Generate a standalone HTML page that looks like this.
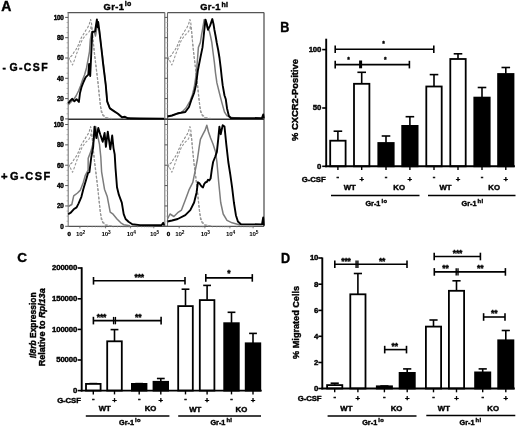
<!DOCTYPE html>
<html><head><meta charset="utf-8"><style>
html,body{margin:0;padding:0;background:#fff;overflow:hidden;}
svg{display:block;font-family:"Liberation Sans", sans-serif;will-change:transform;}
</style></head><body>
<svg width="520" height="427" viewBox="0 0 520 427">
<rect width="520" height="427" fill="#fff"/>
<line x1="67.60000000000001" y1="12.6" x2="164.8" y2="12.6" stroke="#555" stroke-width="1.3" />
<line x1="167.5" y1="12.6" x2="264.0" y2="12.6" stroke="#555" stroke-width="1.3" />
<line x1="68.2" y1="12.6" x2="68.2" y2="226.3" stroke="#777" stroke-width="1.1" />
<line x1="164.8" y1="12.6" x2="164.8" y2="119.2" stroke="#666" stroke-width="1.1" />
<line x1="167.5" y1="12.6" x2="167.5" y2="119.2" stroke="#666" stroke-width="1.1" />
<line x1="164.8" y1="119.2" x2="164.8" y2="226.3" stroke="#777" stroke-width="1.1" />
<line x1="167.5" y1="119.2" x2="167.5" y2="226.3" stroke="#777" stroke-width="1.1" />
<line x1="264.0" y1="12.6" x2="264.0" y2="226.3" stroke="#555" stroke-width="1.3" />
<line x1="68.2" y1="119.2" x2="264.0" y2="119.2" stroke="#333" stroke-width="1.6" />
<line x1="68.2" y1="226.3" x2="264.0" y2="226.3" stroke="#555" stroke-width="1.3" />
<line x1="65.2" y1="118.9" x2="68.2" y2="118.9" stroke="#555" stroke-width="1.0" />
<line x1="164.8" y1="118.9" x2="167.5" y2="118.9" stroke="#555" stroke-width="1.0" />
<line x1="66.6" y1="113.825" x2="68.2" y2="113.825" stroke="#999" stroke-width="0.8" />
<line x1="164.8" y1="113.825" x2="167.5" y2="113.825" stroke="#bbb" stroke-width="0.7" />
<line x1="66.6" y1="108.75" x2="68.2" y2="108.75" stroke="#999" stroke-width="0.8" />
<line x1="164.8" y1="108.75" x2="167.5" y2="108.75" stroke="#bbb" stroke-width="0.7" />
<line x1="66.6" y1="103.67500000000001" x2="68.2" y2="103.67500000000001" stroke="#999" stroke-width="0.8" />
<line x1="164.8" y1="103.67500000000001" x2="167.5" y2="103.67500000000001" stroke="#bbb" stroke-width="0.7" />
<line x1="65.2" y1="98.60000000000001" x2="68.2" y2="98.60000000000001" stroke="#555" stroke-width="1.0" />
<line x1="164.8" y1="98.60000000000001" x2="167.5" y2="98.60000000000001" stroke="#555" stroke-width="1.0" />
<line x1="66.6" y1="93.525" x2="68.2" y2="93.525" stroke="#999" stroke-width="0.8" />
<line x1="164.8" y1="93.525" x2="167.5" y2="93.525" stroke="#bbb" stroke-width="0.7" />
<line x1="66.6" y1="88.45000000000002" x2="68.2" y2="88.45000000000002" stroke="#999" stroke-width="0.8" />
<line x1="164.8" y1="88.45000000000002" x2="167.5" y2="88.45000000000002" stroke="#bbb" stroke-width="0.7" />
<line x1="66.6" y1="83.375" x2="68.2" y2="83.375" stroke="#999" stroke-width="0.8" />
<line x1="164.8" y1="83.375" x2="167.5" y2="83.375" stroke="#bbb" stroke-width="0.7" />
<line x1="65.2" y1="78.30000000000001" x2="68.2" y2="78.30000000000001" stroke="#555" stroke-width="1.0" />
<line x1="164.8" y1="78.30000000000001" x2="167.5" y2="78.30000000000001" stroke="#555" stroke-width="1.0" />
<line x1="66.6" y1="73.22500000000001" x2="68.2" y2="73.22500000000001" stroke="#999" stroke-width="0.8" />
<line x1="164.8" y1="73.22500000000001" x2="167.5" y2="73.22500000000001" stroke="#bbb" stroke-width="0.7" />
<line x1="66.6" y1="68.15" x2="68.2" y2="68.15" stroke="#999" stroke-width="0.8" />
<line x1="164.8" y1="68.15" x2="167.5" y2="68.15" stroke="#bbb" stroke-width="0.7" />
<line x1="66.6" y1="63.07500000000001" x2="68.2" y2="63.07500000000001" stroke="#999" stroke-width="0.8" />
<line x1="164.8" y1="63.07500000000001" x2="167.5" y2="63.07500000000001" stroke="#bbb" stroke-width="0.7" />
<line x1="65.2" y1="58.000000000000014" x2="68.2" y2="58.000000000000014" stroke="#555" stroke-width="1.0" />
<line x1="164.8" y1="58.000000000000014" x2="167.5" y2="58.000000000000014" stroke="#555" stroke-width="1.0" />
<line x1="66.6" y1="52.92500000000001" x2="68.2" y2="52.92500000000001" stroke="#999" stroke-width="0.8" />
<line x1="164.8" y1="52.92500000000001" x2="167.5" y2="52.92500000000001" stroke="#bbb" stroke-width="0.7" />
<line x1="66.6" y1="47.85000000000001" x2="68.2" y2="47.85000000000001" stroke="#999" stroke-width="0.8" />
<line x1="164.8" y1="47.85000000000001" x2="167.5" y2="47.85000000000001" stroke="#bbb" stroke-width="0.7" />
<line x1="66.6" y1="42.77500000000002" x2="68.2" y2="42.77500000000002" stroke="#999" stroke-width="0.8" />
<line x1="164.8" y1="42.77500000000002" x2="167.5" y2="42.77500000000002" stroke="#bbb" stroke-width="0.7" />
<line x1="65.2" y1="37.70000000000002" x2="68.2" y2="37.70000000000002" stroke="#555" stroke-width="1.0" />
<line x1="164.8" y1="37.70000000000002" x2="167.5" y2="37.70000000000002" stroke="#555" stroke-width="1.0" />
<line x1="66.6" y1="32.625000000000014" x2="68.2" y2="32.625000000000014" stroke="#999" stroke-width="0.8" />
<line x1="164.8" y1="32.625000000000014" x2="167.5" y2="32.625000000000014" stroke="#bbb" stroke-width="0.7" />
<line x1="66.6" y1="27.55000000000001" x2="68.2" y2="27.55000000000001" stroke="#999" stroke-width="0.8" />
<line x1="164.8" y1="27.55000000000001" x2="167.5" y2="27.55000000000001" stroke="#bbb" stroke-width="0.7" />
<line x1="66.6" y1="22.47500000000001" x2="68.2" y2="22.47500000000001" stroke="#999" stroke-width="0.8" />
<line x1="164.8" y1="22.47500000000001" x2="167.5" y2="22.47500000000001" stroke="#bbb" stroke-width="0.7" />
<line x1="65.2" y1="17.40000000000002" x2="68.2" y2="17.40000000000002" stroke="#555" stroke-width="1.0" />
<line x1="164.8" y1="17.40000000000002" x2="167.5" y2="17.40000000000002" stroke="#555" stroke-width="1.0" />
<text x="63.6" y="121.2" font-size="6.3" text-anchor="end" font-weight="bold" fill="#000" stroke="#000" stroke-width="0.4" letter-spacing="-0.2">0</text>
<text x="63.6" y="100.9" font-size="6.3" text-anchor="end" font-weight="bold" fill="#000" stroke="#000" stroke-width="0.4" letter-spacing="-0.2">20</text>
<text x="63.6" y="80.60000000000001" font-size="6.3" text-anchor="end" font-weight="bold" fill="#000" stroke="#000" stroke-width="0.4" letter-spacing="-0.2">40</text>
<text x="63.6" y="60.30000000000001" font-size="6.3" text-anchor="end" font-weight="bold" fill="#000" stroke="#000" stroke-width="0.4" letter-spacing="-0.2">60</text>
<text x="63.6" y="40.000000000000014" font-size="6.3" text-anchor="end" font-weight="bold" fill="#000" stroke="#000" stroke-width="0.4" letter-spacing="-0.2">80</text>
<text x="63.6" y="19.70000000000002" font-size="6.3" text-anchor="end" font-weight="bold" fill="#000" stroke="#000" stroke-width="0.4" letter-spacing="-0.2">100</text>
<line x1="65.2" y1="226.3" x2="68.2" y2="226.3" stroke="#555" stroke-width="1.0" />
<line x1="164.8" y1="226.3" x2="167.5" y2="226.3" stroke="#555" stroke-width="1.0" />
<line x1="66.6" y1="221.21" x2="68.2" y2="221.21" stroke="#999" stroke-width="0.8" />
<line x1="164.8" y1="221.21" x2="167.5" y2="221.21" stroke="#bbb" stroke-width="0.7" />
<line x1="66.6" y1="216.12" x2="68.2" y2="216.12" stroke="#999" stroke-width="0.8" />
<line x1="164.8" y1="216.12" x2="167.5" y2="216.12" stroke="#bbb" stroke-width="0.7" />
<line x1="66.6" y1="211.03" x2="68.2" y2="211.03" stroke="#999" stroke-width="0.8" />
<line x1="164.8" y1="211.03" x2="167.5" y2="211.03" stroke="#bbb" stroke-width="0.7" />
<line x1="65.2" y1="205.94" x2="68.2" y2="205.94" stroke="#555" stroke-width="1.0" />
<line x1="164.8" y1="205.94" x2="167.5" y2="205.94" stroke="#555" stroke-width="1.0" />
<line x1="66.6" y1="200.85000000000002" x2="68.2" y2="200.85000000000002" stroke="#999" stroke-width="0.8" />
<line x1="164.8" y1="200.85000000000002" x2="167.5" y2="200.85000000000002" stroke="#bbb" stroke-width="0.7" />
<line x1="66.6" y1="195.76000000000002" x2="68.2" y2="195.76000000000002" stroke="#999" stroke-width="0.8" />
<line x1="164.8" y1="195.76000000000002" x2="167.5" y2="195.76000000000002" stroke="#bbb" stroke-width="0.7" />
<line x1="66.6" y1="190.67000000000002" x2="68.2" y2="190.67000000000002" stroke="#999" stroke-width="0.8" />
<line x1="164.8" y1="190.67000000000002" x2="167.5" y2="190.67000000000002" stroke="#bbb" stroke-width="0.7" />
<line x1="65.2" y1="185.58" x2="68.2" y2="185.58" stroke="#555" stroke-width="1.0" />
<line x1="164.8" y1="185.58" x2="167.5" y2="185.58" stroke="#555" stroke-width="1.0" />
<line x1="66.6" y1="180.49" x2="68.2" y2="180.49" stroke="#999" stroke-width="0.8" />
<line x1="164.8" y1="180.49" x2="167.5" y2="180.49" stroke="#bbb" stroke-width="0.7" />
<line x1="66.6" y1="175.4" x2="68.2" y2="175.4" stroke="#999" stroke-width="0.8" />
<line x1="164.8" y1="175.4" x2="167.5" y2="175.4" stroke="#bbb" stroke-width="0.7" />
<line x1="66.6" y1="170.31" x2="68.2" y2="170.31" stroke="#999" stroke-width="0.8" />
<line x1="164.8" y1="170.31" x2="167.5" y2="170.31" stroke="#bbb" stroke-width="0.7" />
<line x1="65.2" y1="165.22000000000003" x2="68.2" y2="165.22000000000003" stroke="#555" stroke-width="1.0" />
<line x1="164.8" y1="165.22000000000003" x2="167.5" y2="165.22000000000003" stroke="#555" stroke-width="1.0" />
<line x1="66.6" y1="160.13" x2="68.2" y2="160.13" stroke="#999" stroke-width="0.8" />
<line x1="164.8" y1="160.13" x2="167.5" y2="160.13" stroke="#bbb" stroke-width="0.7" />
<line x1="66.6" y1="155.04000000000002" x2="68.2" y2="155.04000000000002" stroke="#999" stroke-width="0.8" />
<line x1="164.8" y1="155.04000000000002" x2="167.5" y2="155.04000000000002" stroke="#bbb" stroke-width="0.7" />
<line x1="66.6" y1="149.95000000000002" x2="68.2" y2="149.95000000000002" stroke="#999" stroke-width="0.8" />
<line x1="164.8" y1="149.95000000000002" x2="167.5" y2="149.95000000000002" stroke="#bbb" stroke-width="0.7" />
<line x1="65.2" y1="144.86" x2="68.2" y2="144.86" stroke="#555" stroke-width="1.0" />
<line x1="164.8" y1="144.86" x2="167.5" y2="144.86" stroke="#555" stroke-width="1.0" />
<line x1="66.6" y1="139.77" x2="68.2" y2="139.77" stroke="#999" stroke-width="0.8" />
<line x1="164.8" y1="139.77" x2="167.5" y2="139.77" stroke="#bbb" stroke-width="0.7" />
<line x1="66.6" y1="134.68" x2="68.2" y2="134.68" stroke="#999" stroke-width="0.8" />
<line x1="164.8" y1="134.68" x2="167.5" y2="134.68" stroke="#bbb" stroke-width="0.7" />
<line x1="66.6" y1="129.59" x2="68.2" y2="129.59" stroke="#999" stroke-width="0.8" />
<line x1="164.8" y1="129.59" x2="167.5" y2="129.59" stroke="#bbb" stroke-width="0.7" />
<line x1="65.2" y1="124.50000000000001" x2="68.2" y2="124.50000000000001" stroke="#555" stroke-width="1.0" />
<line x1="164.8" y1="124.50000000000001" x2="167.5" y2="124.50000000000001" stroke="#555" stroke-width="1.0" />
<text x="63.6" y="228.60000000000002" font-size="6.3" text-anchor="end" font-weight="bold" fill="#000" stroke="#000" stroke-width="0.4" letter-spacing="-0.2">0</text>
<text x="63.6" y="208.24" font-size="6.3" text-anchor="end" font-weight="bold" fill="#000" stroke="#000" stroke-width="0.4" letter-spacing="-0.2">20</text>
<text x="63.6" y="187.88000000000002" font-size="6.3" text-anchor="end" font-weight="bold" fill="#000" stroke="#000" stroke-width="0.4" letter-spacing="-0.2">40</text>
<text x="63.6" y="167.52000000000004" font-size="6.3" text-anchor="end" font-weight="bold" fill="#000" stroke="#000" stroke-width="0.4" letter-spacing="-0.2">60</text>
<text x="63.6" y="147.16000000000003" font-size="6.3" text-anchor="end" font-weight="bold" fill="#000" stroke="#000" stroke-width="0.4" letter-spacing="-0.2">80</text>
<text x="63.6" y="126.80000000000001" font-size="6.3" text-anchor="end" font-weight="bold" fill="#000" stroke="#000" stroke-width="0.4" letter-spacing="-0.2">100</text>
<text x="69.3" y="236.4" font-size="6.2" text-anchor="middle" font-weight="bold" fill="#000" stroke="#000" stroke-width="0.4" >0</text>
<text x="76.0" y="236.4" font-size="6.2" font-weight="bold" letter-spacing="-0.2">10<tspan font-size="4.8" dy="-2.3">2</tspan></text>
<text x="101.5" y="236.4" font-size="6.2" font-weight="bold" letter-spacing="-0.2">10<tspan font-size="4.8" dy="-2.3">3</tspan></text>
<text x="126.7" y="236.4" font-size="6.2" font-weight="bold" letter-spacing="-0.2">10<tspan font-size="4.8" dy="-2.3">4</tspan></text>
<text x="149.9" y="236.4" font-size="6.2" font-weight="bold" letter-spacing="-0.2">10<tspan font-size="4.8" dy="-2.3">5</tspan></text>
<line x1="79.9" y1="226.3" x2="79.9" y2="228.3" stroke="#666" stroke-width="0.9" />
<line x1="105.6" y1="226.3" x2="105.6" y2="228.3" stroke="#666" stroke-width="0.9" />
<line x1="130.6" y1="226.3" x2="130.6" y2="228.3" stroke="#666" stroke-width="0.9" />
<line x1="153.8" y1="226.3" x2="153.8" y2="228.3" stroke="#666" stroke-width="0.9" />
<line x1="87.63647088856432" y1="226.3" x2="87.63647088856432" y2="227.5" stroke="#999" stroke-width="0.6" />
<line x1="92.16201624629532" y1="226.3" x2="92.16201624629532" y2="227.5" stroke="#999" stroke-width="0.6" />
<line x1="95.37294177712863" y1="226.3" x2="95.37294177712863" y2="227.5" stroke="#999" stroke-width="0.6" />
<line x1="97.86352911143568" y1="226.3" x2="97.86352911143568" y2="227.5" stroke="#999" stroke-width="0.6" />
<line x1="99.89848713485964" y1="226.3" x2="99.89848713485964" y2="227.5" stroke="#999" stroke-width="0.6" />
<line x1="101.6190196283664" y1="226.3" x2="101.6190196283664" y2="227.5" stroke="#999" stroke-width="0.6" />
<line x1="103.10941266569294" y1="226.3" x2="103.10941266569294" y2="227.5" stroke="#999" stroke-width="0.6" />
<line x1="104.42403249259064" y1="226.3" x2="104.42403249259064" y2="227.5" stroke="#999" stroke-width="0.6" />
<line x1="113.12574989159953" y1="226.3" x2="113.12574989159953" y2="227.5" stroke="#999" stroke-width="0.6" />
<line x1="117.52803136799156" y1="226.3" x2="117.52803136799156" y2="227.5" stroke="#999" stroke-width="0.6" />
<line x1="120.65149978319906" y1="226.3" x2="120.65149978319906" y2="227.5" stroke="#999" stroke-width="0.6" />
<line x1="123.07425010840046" y1="226.3" x2="123.07425010840046" y2="227.5" stroke="#999" stroke-width="0.6" />
<line x1="125.05378125959109" y1="226.3" x2="125.05378125959109" y2="227.5" stroke="#999" stroke-width="0.6" />
<line x1="126.72745100035641" y1="226.3" x2="126.72745100035641" y2="227.5" stroke="#999" stroke-width="0.6" />
<line x1="128.1772496747986" y1="226.3" x2="128.1772496747986" y2="227.5" stroke="#999" stroke-width="0.6" />
<line x1="129.45606273598312" y1="226.3" x2="129.45606273598312" y2="227.5" stroke="#999" stroke-width="0.6" />
<line x1="137.58389589940435" y1="226.3" x2="137.58389589940435" y2="227.5" stroke="#999" stroke-width="0.6" />
<line x1="141.66921310949618" y1="226.3" x2="141.66921310949618" y2="227.5" stroke="#999" stroke-width="0.6" />
<line x1="144.56779179880874" y1="226.3" x2="144.56779179880874" y2="227.5" stroke="#999" stroke-width="0.6" />
<line x1="146.81610410059565" y1="226.3" x2="146.81610410059565" y2="227.5" stroke="#999" stroke-width="0.6" />
<line x1="148.65310900890054" y1="226.3" x2="148.65310900890054" y2="227.5" stroke="#999" stroke-width="0.6" />
<line x1="150.20627452833077" y1="226.3" x2="150.20627452833077" y2="227.5" stroke="#999" stroke-width="0.6" />
<line x1="151.5516876982131" y1="226.3" x2="151.5516876982131" y2="227.5" stroke="#999" stroke-width="0.6" />
<line x1="152.73842621899234" y1="226.3" x2="152.73842621899234" y2="227.5" stroke="#999" stroke-width="0.6" />
<text x="168.6" y="236.4" font-size="6.2" text-anchor="middle" font-weight="bold" fill="#000" stroke="#000" stroke-width="0.4" >0</text>
<text x="175.3" y="236.4" font-size="6.2" font-weight="bold" letter-spacing="-0.2">10<tspan font-size="4.8" dy="-2.3">2</tspan></text>
<text x="200.8" y="236.4" font-size="6.2" font-weight="bold" letter-spacing="-0.2">10<tspan font-size="4.8" dy="-2.3">3</tspan></text>
<text x="226.0" y="236.4" font-size="6.2" font-weight="bold" letter-spacing="-0.2">10<tspan font-size="4.8" dy="-2.3">4</tspan></text>
<text x="249.2" y="236.4" font-size="6.2" font-weight="bold" letter-spacing="-0.2">10<tspan font-size="4.8" dy="-2.3">5</tspan></text>
<line x1="179.2" y1="226.3" x2="179.2" y2="228.3" stroke="#666" stroke-width="0.9" />
<line x1="204.89999999999998" y1="226.3" x2="204.89999999999998" y2="228.3" stroke="#666" stroke-width="0.9" />
<line x1="229.89999999999998" y1="226.3" x2="229.89999999999998" y2="228.3" stroke="#666" stroke-width="0.9" />
<line x1="253.10000000000002" y1="226.3" x2="253.10000000000002" y2="228.3" stroke="#666" stroke-width="0.9" />
<line x1="186.93647088856432" y1="226.3" x2="186.93647088856432" y2="227.5" stroke="#999" stroke-width="0.6" />
<line x1="191.46201624629532" y1="226.3" x2="191.46201624629532" y2="227.5" stroke="#999" stroke-width="0.6" />
<line x1="194.67294177712864" y1="226.3" x2="194.67294177712864" y2="227.5" stroke="#999" stroke-width="0.6" />
<line x1="197.16352911143568" y1="226.3" x2="197.16352911143568" y2="227.5" stroke="#999" stroke-width="0.6" />
<line x1="199.19848713485965" y1="226.3" x2="199.19848713485965" y2="227.5" stroke="#999" stroke-width="0.6" />
<line x1="200.9190196283664" y1="226.3" x2="200.9190196283664" y2="227.5" stroke="#999" stroke-width="0.6" />
<line x1="202.40941266569294" y1="226.3" x2="202.40941266569294" y2="227.5" stroke="#999" stroke-width="0.6" />
<line x1="203.72403249259065" y1="226.3" x2="203.72403249259065" y2="227.5" stroke="#999" stroke-width="0.6" />
<line x1="212.42574989159954" y1="226.3" x2="212.42574989159954" y2="227.5" stroke="#999" stroke-width="0.6" />
<line x1="216.82803136799157" y1="226.3" x2="216.82803136799157" y2="227.5" stroke="#999" stroke-width="0.6" />
<line x1="219.95149978319904" y1="226.3" x2="219.95149978319904" y2="227.5" stroke="#999" stroke-width="0.6" />
<line x1="222.37425010840047" y1="226.3" x2="222.37425010840047" y2="227.5" stroke="#999" stroke-width="0.6" />
<line x1="224.35378125959107" y1="226.3" x2="224.35378125959107" y2="227.5" stroke="#999" stroke-width="0.6" />
<line x1="226.0274510003564" y1="226.3" x2="226.0274510003564" y2="227.5" stroke="#999" stroke-width="0.6" />
<line x1="227.4772496747986" y1="226.3" x2="227.4772496747986" y2="227.5" stroke="#999" stroke-width="0.6" />
<line x1="228.7560627359831" y1="226.3" x2="228.7560627359831" y2="227.5" stroke="#999" stroke-width="0.6" />
<line x1="236.88389589940437" y1="226.3" x2="236.88389589940437" y2="227.5" stroke="#999" stroke-width="0.6" />
<line x1="240.9692131094962" y1="226.3" x2="240.9692131094962" y2="227.5" stroke="#999" stroke-width="0.6" />
<line x1="243.86779179880875" y1="226.3" x2="243.86779179880875" y2="227.5" stroke="#999" stroke-width="0.6" />
<line x1="246.11610410059563" y1="226.3" x2="246.11610410059563" y2="227.5" stroke="#999" stroke-width="0.6" />
<line x1="247.95310900890053" y1="226.3" x2="247.95310900890053" y2="227.5" stroke="#999" stroke-width="0.6" />
<line x1="249.50627452833078" y1="226.3" x2="249.50627452833078" y2="227.5" stroke="#999" stroke-width="0.6" />
<line x1="250.85168769821308" y1="226.3" x2="250.85168769821308" y2="227.5" stroke="#999" stroke-width="0.6" />
<line x1="252.03842621899236" y1="226.3" x2="252.03842621899236" y2="227.5" stroke="#999" stroke-width="0.6" />
<text x="103.5" y="9.8" font-size="9.3" font-weight="bold" letter-spacing="0.4" stroke="#000" stroke-width="0.4">Gr-1<tspan font-size="7" dx="0.6" dy="-3.6" letter-spacing="0.2">lo</tspan></text>
<text x="200.2" y="10.1" font-size="9.3" font-weight="bold" letter-spacing="0.4" stroke="#000" stroke-width="0.4">Gr-1<tspan font-size="7" dx="0.6" dy="-3.6" letter-spacing="0.2">hi</tspan></text>
<text x="2.4" y="70.9" font-size="10.2" text-anchor="start" font-weight="bold" fill="#000" stroke="#000" stroke-width="0.4" >-</text>
<text x="9.4" y="70.9" font-size="10.5" text-anchor="start" font-weight="bold" fill="#000" stroke="#000" stroke-width="0.4" letter-spacing="1.4">G-CSF</text>
<text x="1.0" y="180.4" font-size="11.3" text-anchor="start" font-weight="bold" fill="#000" stroke="#000" stroke-width="0.4" >+</text>
<text x="10.1" y="180.4" font-size="11" text-anchor="start" font-weight="bold" fill="#000" stroke="#000" stroke-width="0.4" letter-spacing="1.5">G-CSF</text>
<text x="1.2" y="11.3" font-size="14" text-anchor="start" font-weight="bold" fill="#000" stroke="#000" stroke-width="0.4" >A</text>
<text x="280.3" y="31.7" font-size="14" text-anchor="start" font-weight="bold" fill="#000" stroke="#000" stroke-width="0.4" transform="translate(280.3 0) scale(0.9 1) translate(-280.3 0)">B</text>
<text x="17.3" y="262.3" font-size="13.5" text-anchor="start" font-weight="bold" fill="#000" stroke="#000" stroke-width="0.4" >C</text>
<text x="281.1" y="263.1" font-size="14" text-anchor="start" font-weight="bold" fill="#000" stroke="#000" stroke-width="0.4" transform="translate(281.1 0) scale(0.9 1) translate(-281.1 0)">D</text>
<polyline points="68.3,60.5 70.2,57 72,55.5 74.1,52 76,49.5 77.9,46 80,41 81.4,37.5 83.6,34 85.7,30.5 87.7,27.5 89.2,24.5 90.6,19.5 91.5,23 92.5,33 93.5,45 94.5,55 95.8,65 97,75 98.2,85 99.2,95 100.3,105 101.3,112 103,115.5 105.5,117.8 110,118.6" fill="none" stroke="#8c8c8c" stroke-width="1.1" stroke-linejoin="round" stroke-dasharray="2.6 1.6"/>
<polyline points="68.3,56.5 70.3,60.5 72.5,65 74.5,60 76.5,54 78.5,49 80.5,44 82.1,40.1 85,35.9 87.8,33.1 89.2,31.7 90.5,28.5 91.3,26 92.3,32 93.3,42 94.5,53 95.6,62 96.8,72 98,82 99,92 100.2,103 101.3,110 102.8,114.5 106,117.5 112,118.6" fill="none" stroke="#9a9a9a" stroke-width="1.1" stroke-linejoin="round" stroke-dasharray="2.6 1.6"/>
<polyline points="68.3,167.73 70.2,164.22 72,162.71 74.1,159.2 76,156.69 77.9,153.18 80,148.17 81.4,144.66 83.6,141.15 85.7,137.64 87.7,134.63 89.2,131.62 90.6,126.61 91.5,130.12 92.5,140.15 93.5,152.18 94.5,162.21 95.8,172.24 97,182.27 98.2,192.3 99.2,202.33 100.3,212.36 101.3,219.38 103,222.89 105.5,225.2 110,226.0" fill="none" stroke="#8c8c8c" stroke-width="1.1" stroke-linejoin="round" stroke-dasharray="2.6 1.6"/>
<polyline points="68.3,163.72 70.3,167.73 72.5,172.24 74.5,167.23 76.5,161.21 78.5,156.19 80.5,151.18 82.1,147.27 85,143.05 87.8,140.25 89.2,138.84 90.5,135.63 91.3,133.13 92.3,139.14 93.3,149.17 94.5,160.21 95.6,169.23 96.8,179.26 98,189.29 99,199.32 100.2,210.35 101.3,217.37 102.8,221.89 106,224.9 112,226.0" fill="none" stroke="#9a9a9a" stroke-width="1.1" stroke-linejoin="round" stroke-dasharray="2.6 1.6"/>
<polyline points="167.6,60.5 169.5,57 171.3,55.5 173.4,52 175.3,49.5 177.2,46 179.3,41 180.7,37.5 182.9,34 185.0,30.5 187.0,27.5 188.5,24.5 189.9,19.5 190.8,23 191.8,33 192.8,45 193.8,55 195.1,65 196.3,75 197.5,85 198.5,95 199.6,105 200.6,112 202.3,115.5 204.8,117.8 209.3,118.6" fill="none" stroke="#8c8c8c" stroke-width="1.1" stroke-linejoin="round" stroke-dasharray="2.6 1.6"/>
<polyline points="167.6,56.5 169.6,60.5 171.8,65 173.8,60 175.8,54 177.8,49 179.8,44 181.4,40.1 184.3,35.9 187.1,33.1 188.5,31.7 189.8,28.5 190.6,26 191.6,32 192.6,42 193.8,53 194.9,62 196.1,72 197.3,82 198.3,92 199.5,103 200.6,110 202.1,114.5 205.3,117.5 211.3,118.6" fill="none" stroke="#9a9a9a" stroke-width="1.1" stroke-linejoin="round" stroke-dasharray="2.6 1.6"/>
<polyline points="167.6,167.73 169.5,164.22 171.3,162.71 173.4,159.2 175.3,156.69 177.2,153.18 179.3,148.17 180.7,144.66 182.9,141.15 185.0,137.64 187.0,134.63 188.5,131.62 189.9,126.61 190.8,130.12 191.8,140.15 192.8,152.18 193.8,162.21 195.1,172.24 196.3,182.27 197.5,192.3 198.5,202.33 199.6,212.36 200.6,219.38 202.3,222.89 204.8,225.2 209.3,226.0" fill="none" stroke="#8c8c8c" stroke-width="1.1" stroke-linejoin="round" stroke-dasharray="2.6 1.6"/>
<polyline points="167.6,163.72 169.6,167.73 171.8,172.24 173.8,167.23 175.8,161.21 177.8,156.19 179.8,151.18 181.4,147.27 184.3,143.05 187.1,140.25 188.5,138.84 189.8,135.63 190.6,133.13 191.6,139.14 192.6,149.17 193.8,160.21 194.9,169.23 196.1,179.26 197.3,189.29 198.3,199.32 199.5,210.35 200.6,217.37 202.1,221.89 205.3,224.9 211.3,226.0" fill="none" stroke="#9a9a9a" stroke-width="1.1" stroke-linejoin="round" stroke-dasharray="2.6 1.6"/>
<polyline points="68.2,105 70,103 72,101 74,99 76,96 78.5,91 80.5,86 82.5,80 84.5,75 86.5,68 88,60 89.5,51.7 90.3,40 91.5,33 92.8,32 94.5,32.5 95.5,36 96.5,30 97.5,25 98.5,28 99.4,31 100.6,42 102.1,53 103.5,64.5 104.9,76.5 105.9,86 107.1,100.5 109.7,108 113.9,111 118,114 122,117.5 130,118.6" fill="none" stroke="#7c7c7c" stroke-width="1.5" stroke-linejoin="round" />
<polyline points="68.2,103.4 70,101 72.3,98.8 74.4,101.3 76.5,99.2 78.9,102 80,93 81.6,86.8 83.5,82 85.6,77.4 88.3,74.7 89.1,63.9 90.2,76 91.2,55 91.8,42.3 92.3,31.6 93.5,31.6 95,31.6 96.9,19.4 97.5,27 98.2,22 99.1,28.9 100.4,39.6 101.8,52 103.1,63.9 104.5,75 105.8,85.5 107.2,101.6 109.9,108.4 113.9,111.1 118,113.8 122,117.3 125,116.8 128,118.3 140,118.5 164,118.6" fill="none" stroke="#000" stroke-width="1.9" stroke-linejoin="round" />
<polyline points="167.5,116 172,115.5 175,114.5 179,113.5 182,112 186,108 188,104.5 190.3,100.6 192.3,95 194.1,88 195.5,79 196.6,70.2 197.6,58 198.4,47.4 200.4,42.4 201.5,35 202.5,29.7 203.5,24 204.2,19.6 205,23 206,25 207.5,28 209.3,31 210.5,36 211.8,42.4 213,52 214.4,62.6 215.5,73 216.9,82.9 219.4,93 222,103.1 224.5,112 227,115.8 231,117.6 240,118.3" fill="none" stroke="#7c7c7c" stroke-width="1.5" stroke-linejoin="round" />
<polyline points="167.5,116.5 172,115.5 177.7,113.3 181,112.8 185.3,112 189,107 191.6,99.3 194.1,93 195.9,85.4 197.9,70.2 200.4,57.6 202.5,47.4 203.5,38 204.2,31 205.5,19.6 206.8,24 208,29.7 210,25.9 212.3,19.1 213.5,24 214.4,29.7 215.6,36 216.8,43 218.2,50 219.5,58 220.7,67.7 221.7,77 222.7,85.4 224.5,95.5 225.8,99.3 227,108.2 228.8,115.8 230.8,118.0 262,118.1 263.2,114.5 263.8,118.4" fill="none" stroke="#000" stroke-width="1.9" stroke-linejoin="round" />
<polyline points="68.2,206.5 71.8,204.5 73.7,195.9 77.5,193 80.4,190.1 83.3,182.4 85.2,175.7 88.1,170 88.2,158.2 90.7,151.9 93.2,143 95.1,132.9 95.7,126.6 97.6,135.5 99.5,144.3 100.8,157 101.6,171.8 104.5,189.2 107.3,196.8 110.2,212.2 113.1,214.2 117,219 120.8,222.8 123.7,224.7 130,225.8" fill="none" stroke="#7c7c7c" stroke-width="1.5" stroke-linejoin="round" />
<polyline points="68.2,214.2 70.8,212.6 73.7,209.3 76.6,207.4 78.5,203.6 81.4,196.8 83.3,189.2 86.2,179.5 88.1,172.8 89.4,172.2 91.3,157 93.2,146.8 94.5,126.6 96.4,138 98.3,127.9 100.2,134.2 102.7,141.8 104.6,132.9 105.9,146.8 107.8,131.7 110.3,149.4 112.2,135.5 113.5,148.1 114.7,154.4 115.5,168 117,187.2 118.9,194.9 121.8,202.6 123.7,214.2 125.6,219 128.5,221.8 132.3,224.3 140,225.1 161.5,225.3 163.2,222.8 164.2,225.5" fill="none" stroke="#000" stroke-width="1.9" stroke-linejoin="round" />
<polyline points="167.5,219 170,214 173.9,216.5 177.7,212.7 181.5,210.1 185.3,200 189,189.9 192.8,182.3 195.4,169.6 197.4,159.5 199.2,146.8 200.4,139.3 203,134.2 205,130.4 206.8,125.3 208.5,132 210.6,138 213.1,144.3 215.6,151.9 216.9,162 218.7,182.3 220.7,202.5 223.2,214 227,220.3 232.1,222.8 240,225" fill="none" stroke="#7c7c7c" stroke-width="1.5" stroke-linejoin="round" />
<polyline points="167.5,221.5 172,220.5 177.7,219 185.3,215.2 190.3,210.1 194.1,202.5 196.6,192.4 197.9,182.3 199.2,183 200.4,184.8 201.6,186.5 203,187.4 204.2,184 205.5,182.3 206.8,182 208,179.8 209.3,180.5 210.6,178.5 211.8,169.6 213.1,162 215.1,157 216.9,151.9 218.2,139.3 219.4,126.6 220.7,134.2 222.7,125.3 224.5,126.6 226.3,144.3 228.3,162 230.3,174.7 232.1,187.4 233.9,202.5 235.9,215.2 237.9,221.5 240.9,224.2 262,224.4 263.2,217.5 263.8,225.5" fill="none" stroke="#000" stroke-width="1.9" stroke-linejoin="round" />
<line x1="337.9" y1="131.2" x2="337.9" y2="140.4" stroke="#000" stroke-width="1.6" />
<line x1="333.59999999999997" y1="131.2" x2="342.2" y2="131.2" stroke="#000" stroke-width="1.6" />
<rect x="330.20" y="140.70" width="15.40" height="25.60" fill="#fff" stroke="#000" stroke-width="1.8"/>
<line x1="361.7" y1="72.3" x2="361.7" y2="83.5" stroke="#000" stroke-width="1.6" />
<line x1="357.4" y1="72.3" x2="366.0" y2="72.3" stroke="#000" stroke-width="1.6" />
<rect x="354.00" y="83.80" width="15.40" height="82.50" fill="#fff" stroke="#000" stroke-width="1.8"/>
<line x1="386.0" y1="136.0" x2="386.0" y2="142.7" stroke="#000" stroke-width="1.6" />
<line x1="381.7" y1="136.0" x2="390.3" y2="136.0" stroke="#000" stroke-width="1.6" />
<rect x="378.30" y="143.00" width="15.40" height="23.30" fill="#000" stroke="#000" stroke-width="1.8"/>
<line x1="409.9" y1="116.7" x2="409.9" y2="125.6" stroke="#000" stroke-width="1.6" />
<line x1="405.59999999999997" y1="116.7" x2="414.2" y2="116.7" stroke="#000" stroke-width="1.6" />
<rect x="402.20" y="125.90" width="15.40" height="40.40" fill="#000" stroke="#000" stroke-width="1.8"/>
<line x1="434.0" y1="74.6" x2="434.0" y2="86.2" stroke="#000" stroke-width="1.6" />
<line x1="429.7" y1="74.6" x2="438.3" y2="74.6" stroke="#000" stroke-width="1.6" />
<rect x="426.30" y="86.50" width="15.40" height="79.80" fill="#fff" stroke="#000" stroke-width="1.8"/>
<line x1="458.0" y1="53.8" x2="458.0" y2="58.7" stroke="#000" stroke-width="1.6" />
<line x1="453.7" y1="53.8" x2="462.3" y2="53.8" stroke="#000" stroke-width="1.6" />
<rect x="450.30" y="59.00" width="15.40" height="107.30" fill="#fff" stroke="#000" stroke-width="1.8"/>
<line x1="482.0" y1="87.5" x2="482.0" y2="97.3" stroke="#000" stroke-width="1.6" />
<line x1="477.7" y1="87.5" x2="486.3" y2="87.5" stroke="#000" stroke-width="1.6" />
<rect x="474.30" y="97.60" width="15.40" height="68.70" fill="#000" stroke="#000" stroke-width="1.8"/>
<line x1="505.8" y1="67.5" x2="505.8" y2="73.7" stroke="#000" stroke-width="1.6" />
<line x1="501.5" y1="67.5" x2="510.1" y2="67.5" stroke="#000" stroke-width="1.6" />
<rect x="498.10" y="74.00" width="15.40" height="92.30" fill="#000" stroke="#000" stroke-width="1.8"/>
<line x1="326.2" y1="38.7" x2="326.2" y2="167.20000000000002" stroke="#000" stroke-width="1.9" />
<line x1="322.2" y1="49.6" x2="326.2" y2="49.6" stroke="#000" stroke-width="1.6" />
<text x="321.2" y="51.9" font-size="7.8" text-anchor="end" font-weight="bold" fill="#000" stroke="#000" stroke-width="0.4" letter-spacing="-0.15">100</text>
<line x1="322.2" y1="108.0" x2="326.2" y2="108.0" stroke="#000" stroke-width="1.6" />
<text x="321.2" y="110.3" font-size="7.8" text-anchor="end" font-weight="bold" fill="#000" stroke="#000" stroke-width="0.4" letter-spacing="-0.15">50</text>
<line x1="322.2" y1="166.3" x2="326.2" y2="166.3" stroke="#000" stroke-width="1.6" />
<text x="321.2" y="168.60000000000002" font-size="7.8" text-anchor="end" font-weight="bold" fill="#000" stroke="#000" stroke-width="0.4" letter-spacing="-0.15">0</text>
<line x1="325.3" y1="166.3" x2="514.9" y2="166.3" stroke="#000" stroke-width="1.9" />
<line x1="337.9" y1="166.3" x2="337.9" y2="170.10000000000002" stroke="#000" stroke-width="1.4" />
<line x1="361.7" y1="166.3" x2="361.7" y2="170.10000000000002" stroke="#000" stroke-width="1.4" />
<line x1="386.0" y1="166.3" x2="386.0" y2="170.10000000000002" stroke="#000" stroke-width="1.4" />
<line x1="409.9" y1="166.3" x2="409.9" y2="170.10000000000002" stroke="#000" stroke-width="1.4" />
<line x1="434.0" y1="166.3" x2="434.0" y2="170.10000000000002" stroke="#000" stroke-width="1.4" />
<line x1="458.0" y1="166.3" x2="458.0" y2="170.10000000000002" stroke="#000" stroke-width="1.4" />
<line x1="482.0" y1="166.3" x2="482.0" y2="170.10000000000002" stroke="#000" stroke-width="1.4" />
<line x1="505.8" y1="166.3" x2="505.8" y2="170.10000000000002" stroke="#000" stroke-width="1.4" />
<line x1="335.2" y1="49.3" x2="433.8" y2="49.3" stroke="#000" stroke-width="1.6" />
<line x1="335.2" y1="45.5" x2="335.2" y2="53.099999999999994" stroke="#000" stroke-width="1.6" />
<line x1="433.8" y1="45.5" x2="433.8" y2="53.099999999999994" stroke="#000" stroke-width="1.6" />
<line x1="335.2" y1="64.6" x2="409.4" y2="64.6" stroke="#000" stroke-width="1.6" />
<line x1="335.2" y1="60.8" x2="335.2" y2="68.39999999999999" stroke="#000" stroke-width="1.6" />
<line x1="409.4" y1="60.8" x2="409.4" y2="68.39999999999999" stroke="#000" stroke-width="1.6" />
<rect x="359.1" y="60.50000000000001" width="3" height="7.8" fill="#000"/>
<text x="383.5" y="46.0" font-size="6.6" text-anchor="middle" font-weight="bold" fill="#000" stroke="#000" stroke-width="0.4" >*</text>
<text x="348.6" y="62.2" font-size="6.6" text-anchor="middle" font-weight="bold" fill="#000" stroke="#000" stroke-width="0.4" >*</text>
<text x="385.4" y="62.2" font-size="6.6" text-anchor="middle" font-weight="bold" fill="#000" stroke="#000" stroke-width="0.4" >*</text>
<text transform="translate(298.2 100) rotate(-90)" font-size="9.4" font-weight="bold" text-anchor="middle" stroke="#000" stroke-width="0.4">% CXCR2-Positive</text>
<text x="325.6" y="181.6" font-size="7.8" text-anchor="end" font-weight="bold" fill="#000" stroke="#000" stroke-width="0.4" letter-spacing="-0.1">G-CSF</text>
<text x="337.9" y="178.9" font-size="7.8" text-anchor="middle" font-weight="bold" fill="#000" stroke="#000" stroke-width="0.4" >-</text>
<text x="361.7" y="182.0" font-size="7.8" text-anchor="middle" font-weight="bold" fill="#000" stroke="#000" stroke-width="0.4" >+</text>
<text x="386.0" y="178.9" font-size="7.8" text-anchor="middle" font-weight="bold" fill="#000" stroke="#000" stroke-width="0.4" >-</text>
<text x="409.9" y="182.0" font-size="7.8" text-anchor="middle" font-weight="bold" fill="#000" stroke="#000" stroke-width="0.4" >+</text>
<text x="434.0" y="178.9" font-size="7.8" text-anchor="middle" font-weight="bold" fill="#000" stroke="#000" stroke-width="0.4" >-</text>
<text x="458.0" y="182.0" font-size="7.8" text-anchor="middle" font-weight="bold" fill="#000" stroke="#000" stroke-width="0.4" >+</text>
<text x="482.0" y="178.9" font-size="7.8" text-anchor="middle" font-weight="bold" fill="#000" stroke="#000" stroke-width="0.4" >-</text>
<text x="505.8" y="182.0" font-size="7.8" text-anchor="middle" font-weight="bold" fill="#000" stroke="#000" stroke-width="0.4" >+</text>
<text x="349.8" y="190.3" font-size="7.8" text-anchor="middle" font-weight="bold" fill="#000" stroke="#000" stroke-width="0.4" >WT</text>
<text x="399.2" y="190.3" font-size="7.8" text-anchor="middle" font-weight="bold" fill="#000" stroke="#000" stroke-width="0.4" >KO</text>
<text x="445.5" y="190.3" font-size="7.8" text-anchor="middle" font-weight="bold" fill="#000" stroke="#000" stroke-width="0.4" >WT</text>
<text x="494.2" y="190.3" font-size="7.8" text-anchor="middle" font-weight="bold" fill="#000" stroke="#000" stroke-width="0.4" >KO</text>
<line x1="331.0" y1="195.6" x2="419.5" y2="195.6" stroke="#000" stroke-width="1.5" />
<line x1="428.0" y1="195.6" x2="515.5" y2="195.6" stroke="#000" stroke-width="1.5" />
<text x="365.4" y="205.5" font-size="7.3" font-weight="bold" stroke="#000" stroke-width="0.4">Gr-1<tspan font-size="5.8" dx="1.0" dy="-3.0" letter-spacing="0.4">lo</tspan></text>
<text x="461.6" y="205.5" font-size="7.3" font-weight="bold" stroke="#000" stroke-width="0.4">Gr-1<tspan font-size="5.8" dx="1.0" dy="-3.0" letter-spacing="0.4">hi</tspan></text>
<line x1="93.3" y1="383.6" x2="93.3" y2="383.6" stroke="#000" stroke-width="1.6" />
<line x1="89.39999999999999" y1="383.6" x2="97.2" y2="383.6" stroke="#000" stroke-width="1.6" />
<rect x="86.00" y="383.90" width="14.60" height="6.70" fill="#fff" stroke="#000" stroke-width="1.8"/>
<line x1="114.5" y1="329.6" x2="114.5" y2="341.0" stroke="#000" stroke-width="1.6" />
<line x1="110.6" y1="329.6" x2="118.4" y2="329.6" stroke="#000" stroke-width="1.6" />
<rect x="107.20" y="341.30" width="14.60" height="49.30" fill="#fff" stroke="#000" stroke-width="1.8"/>
<line x1="139.2" y1="383.6" x2="139.2" y2="383.6" stroke="#000" stroke-width="1.6" />
<line x1="135.29999999999998" y1="383.6" x2="143.1" y2="383.6" stroke="#000" stroke-width="1.6" />
<rect x="131.90" y="383.90" width="14.60" height="6.70" fill="#000" stroke="#000" stroke-width="1.8"/>
<line x1="160.8" y1="378.5" x2="160.8" y2="381.5" stroke="#000" stroke-width="1.6" />
<line x1="156.9" y1="378.5" x2="164.70000000000002" y2="378.5" stroke="#000" stroke-width="1.6" />
<rect x="153.50" y="381.80" width="14.60" height="8.80" fill="#000" stroke="#000" stroke-width="1.8"/>
<line x1="185.5" y1="289.2" x2="185.5" y2="305.8" stroke="#000" stroke-width="1.6" />
<line x1="181.6" y1="289.2" x2="189.4" y2="289.2" stroke="#000" stroke-width="1.6" />
<rect x="178.20" y="306.10" width="14.60" height="84.50" fill="#fff" stroke="#000" stroke-width="1.8"/>
<line x1="207.1" y1="285.4" x2="207.1" y2="299.8" stroke="#000" stroke-width="1.6" />
<line x1="203.2" y1="285.4" x2="211.0" y2="285.4" stroke="#000" stroke-width="1.6" />
<rect x="199.80" y="300.10" width="14.60" height="90.50" fill="#fff" stroke="#000" stroke-width="1.8"/>
<line x1="231.5" y1="312.3" x2="231.5" y2="322.9" stroke="#000" stroke-width="1.6" />
<line x1="227.6" y1="312.3" x2="235.4" y2="312.3" stroke="#000" stroke-width="1.6" />
<rect x="224.20" y="323.20" width="14.60" height="67.40" fill="#000" stroke="#000" stroke-width="1.8"/>
<line x1="253.0" y1="333.4" x2="253.0" y2="343.0" stroke="#000" stroke-width="1.6" />
<line x1="249.1" y1="333.4" x2="256.9" y2="333.4" stroke="#000" stroke-width="1.6" />
<rect x="245.70" y="343.30" width="14.60" height="47.30" fill="#000" stroke="#000" stroke-width="1.8"/>
<line x1="81.7" y1="267.2" x2="81.7" y2="391.5" stroke="#000" stroke-width="1.9" />
<line x1="77.7" y1="268.0" x2="81.7" y2="268.0" stroke="#000" stroke-width="1.6" />
<text x="77.2" y="270.3" font-size="7.8" text-anchor="end" font-weight="bold" fill="#000" stroke="#000" stroke-width="0.4" letter-spacing="-0.15">200000</text>
<line x1="77.7" y1="298.8" x2="81.7" y2="298.8" stroke="#000" stroke-width="1.6" />
<text x="77.2" y="301.1" font-size="7.8" text-anchor="end" font-weight="bold" fill="#000" stroke="#000" stroke-width="0.4" letter-spacing="-0.15">150000</text>
<line x1="77.7" y1="329.4" x2="81.7" y2="329.4" stroke="#000" stroke-width="1.6" />
<text x="77.2" y="331.7" font-size="7.8" text-anchor="end" font-weight="bold" fill="#000" stroke="#000" stroke-width="0.4" letter-spacing="-0.15">100000</text>
<line x1="77.7" y1="360.0" x2="81.7" y2="360.0" stroke="#000" stroke-width="1.6" />
<text x="77.2" y="362.3" font-size="7.8" text-anchor="end" font-weight="bold" fill="#000" stroke="#000" stroke-width="0.4" letter-spacing="-0.15">50000</text>
<line x1="77.7" y1="390.6" x2="81.7" y2="390.6" stroke="#000" stroke-width="1.6" />
<text x="77.2" y="392.90000000000003" font-size="7.8" text-anchor="end" font-weight="bold" fill="#000" stroke="#000" stroke-width="0.4" letter-spacing="-0.15">0</text>
<line x1="80.8" y1="390.6" x2="261.7" y2="390.6" stroke="#000" stroke-width="1.9" />
<line x1="93.3" y1="390.6" x2="93.3" y2="394.40000000000003" stroke="#000" stroke-width="1.4" />
<line x1="114.5" y1="390.6" x2="114.5" y2="394.40000000000003" stroke="#000" stroke-width="1.4" />
<line x1="139.2" y1="390.6" x2="139.2" y2="394.40000000000003" stroke="#000" stroke-width="1.4" />
<line x1="160.8" y1="390.6" x2="160.8" y2="394.40000000000003" stroke="#000" stroke-width="1.4" />
<line x1="185.5" y1="390.6" x2="185.5" y2="394.40000000000003" stroke="#000" stroke-width="1.4" />
<line x1="207.1" y1="390.6" x2="207.1" y2="394.40000000000003" stroke="#000" stroke-width="1.4" />
<line x1="231.5" y1="390.6" x2="231.5" y2="394.40000000000003" stroke="#000" stroke-width="1.4" />
<line x1="253.0" y1="390.6" x2="253.0" y2="394.40000000000003" stroke="#000" stroke-width="1.4" />
<line x1="93.5" y1="280.8" x2="185.0" y2="280.8" stroke="#000" stroke-width="1.6" />
<line x1="93.5" y1="277.0" x2="93.5" y2="284.6" stroke="#000" stroke-width="1.6" />
<line x1="185.0" y1="277.0" x2="185.0" y2="284.6" stroke="#000" stroke-width="1.6" />
<text x="139.2" y="279.5" font-size="8.5" text-anchor="middle" font-weight="bold" fill="#000" stroke="#000" stroke-width="0.4" letter-spacing="-0.2">***</text>
<line x1="93.4" y1="320.6" x2="161.1" y2="320.6" stroke="#000" stroke-width="1.6" />
<line x1="93.4" y1="316.8" x2="93.4" y2="324.40000000000003" stroke="#000" stroke-width="1.6" />
<line x1="161.1" y1="316.8" x2="161.1" y2="324.40000000000003" stroke="#000" stroke-width="1.6" />
<line x1="113.6" y1="316.90000000000003" x2="113.6" y2="324.3" stroke="#000" stroke-width="1.4" />
<line x1="115.4" y1="316.90000000000003" x2="115.4" y2="324.3" stroke="#000" stroke-width="1.4" />
<text x="101.5" y="320.1" font-size="8.5" text-anchor="middle" font-weight="bold" fill="#000" stroke="#000" stroke-width="0.4" letter-spacing="-0.2">***</text>
<text x="138.2" y="319.5" font-size="8.5" text-anchor="middle" font-weight="bold" fill="#000" stroke="#000" stroke-width="0.4" letter-spacing="-0.2">**</text>
<line x1="205.8" y1="277.9" x2="252.3" y2="277.9" stroke="#000" stroke-width="1.6" />
<line x1="205.8" y1="274.09999999999997" x2="205.8" y2="281.7" stroke="#000" stroke-width="1.6" />
<line x1="252.3" y1="274.09999999999997" x2="252.3" y2="281.7" stroke="#000" stroke-width="1.6" />
<text x="228.8" y="276.0" font-size="8.5" text-anchor="middle" font-weight="bold" fill="#000" stroke="#000" stroke-width="0.4" letter-spacing="-0.2">*</text>
<text transform="translate(36.2 325.3) rotate(-90)" font-size="9.2" font-weight="bold" text-anchor="middle" textLength="66" lengthAdjust="spacingAndGlyphs" stroke="#000" stroke-width="0.4"><tspan font-style="italic">Il8rb</tspan> Expression</text>
<text transform="translate(44.8 327.3) rotate(-90)" font-size="9.2" font-weight="bold" text-anchor="middle" textLength="78" lengthAdjust="spacingAndGlyphs" stroke="#000" stroke-width="0.4">Relative to <tspan font-style="italic">Rpl13a</tspan></text>
<text x="80.9" y="402.6" font-size="7.8" text-anchor="end" font-weight="bold" fill="#000" stroke="#000" stroke-width="0.4" letter-spacing="-0.1">G-CSF</text>
<text x="93.3" y="401.0" font-size="7.8" text-anchor="middle" font-weight="bold" fill="#000" stroke="#000" stroke-width="0.4" >-</text>
<text x="114.5" y="402.8" font-size="7.8" text-anchor="middle" font-weight="bold" fill="#000" stroke="#000" stroke-width="0.4" >+</text>
<text x="139.2" y="401.0" font-size="7.8" text-anchor="middle" font-weight="bold" fill="#000" stroke="#000" stroke-width="0.4" >-</text>
<text x="160.8" y="402.8" font-size="7.8" text-anchor="middle" font-weight="bold" fill="#000" stroke="#000" stroke-width="0.4" >+</text>
<text x="185.5" y="401.0" font-size="7.8" text-anchor="middle" font-weight="bold" fill="#000" stroke="#000" stroke-width="0.4" >-</text>
<text x="207.1" y="402.8" font-size="7.8" text-anchor="middle" font-weight="bold" fill="#000" stroke="#000" stroke-width="0.4" >+</text>
<text x="231.5" y="401.0" font-size="7.8" text-anchor="middle" font-weight="bold" fill="#000" stroke="#000" stroke-width="0.4" >-</text>
<text x="253.0" y="402.8" font-size="7.8" text-anchor="middle" font-weight="bold" fill="#000" stroke="#000" stroke-width="0.4" >+</text>
<text x="104.7" y="411.2" font-size="7.8" text-anchor="middle" font-weight="bold" fill="#000" stroke="#000" stroke-width="0.4" >WT</text>
<text x="150.5" y="411.2" font-size="7.8" text-anchor="middle" font-weight="bold" fill="#000" stroke="#000" stroke-width="0.4" >KO</text>
<text x="195.2" y="412.2" font-size="7.8" text-anchor="middle" font-weight="bold" fill="#000" stroke="#000" stroke-width="0.4" >WT</text>
<text x="241.4" y="412.2" font-size="7.8" text-anchor="middle" font-weight="bold" fill="#000" stroke="#000" stroke-width="0.4" >KO</text>
<line x1="85.8" y1="415.9" x2="169.4" y2="415.9" stroke="#000" stroke-width="1.5" />
<line x1="178.2" y1="415.9" x2="261.0" y2="415.9" stroke="#000" stroke-width="1.5" />
<text x="119.0" y="425.0" font-size="7.3" font-weight="bold" stroke="#000" stroke-width="0.4">Gr-1<tspan font-size="5.8" dx="1.0" dy="-3.0" letter-spacing="0.4">lo</tspan></text>
<text x="210.4" y="424.5" font-size="7.3" font-weight="bold" stroke="#000" stroke-width="0.4">Gr-1<tspan font-size="5.8" dx="1.0" dy="-3.0" letter-spacing="0.4">hi</tspan></text>
<line x1="334.7" y1="383.2" x2="334.7" y2="384.8" stroke="#000" stroke-width="1.6" />
<line x1="330.59999999999997" y1="383.2" x2="338.8" y2="383.2" stroke="#000" stroke-width="1.6" />
<rect x="327.10" y="385.10" width="15.20" height="3.40" fill="#fff" stroke="#000" stroke-width="1.8"/>
<line x1="357.9" y1="273.5" x2="357.9" y2="294.0" stroke="#000" stroke-width="1.6" />
<line x1="353.79999999999995" y1="273.5" x2="362.0" y2="273.5" stroke="#000" stroke-width="1.6" />
<rect x="350.30" y="294.30" width="15.20" height="94.20" fill="#fff" stroke="#000" stroke-width="1.8"/>
<line x1="384.4" y1="386.0" x2="384.4" y2="386.0" stroke="#000" stroke-width="1.6" />
<line x1="380.29999999999995" y1="386.0" x2="388.5" y2="386.0" stroke="#000" stroke-width="1.6" />
<rect x="376.80" y="386.30" width="15.20" height="2.20" fill="#000" stroke="#000" stroke-width="1.8"/>
<line x1="407.2" y1="368.9" x2="407.2" y2="372.6" stroke="#000" stroke-width="1.6" />
<line x1="403.09999999999997" y1="368.9" x2="411.3" y2="368.9" stroke="#000" stroke-width="1.6" />
<rect x="399.60" y="372.90" width="15.20" height="15.60" fill="#000" stroke="#000" stroke-width="1.8"/>
<line x1="433.5" y1="320.0" x2="433.5" y2="326.3" stroke="#000" stroke-width="1.6" />
<line x1="429.4" y1="320.0" x2="437.6" y2="320.0" stroke="#000" stroke-width="1.6" />
<rect x="425.90" y="326.60" width="15.20" height="61.90" fill="#fff" stroke="#000" stroke-width="1.8"/>
<line x1="456.5" y1="280.8" x2="456.5" y2="290.5" stroke="#000" stroke-width="1.6" />
<line x1="452.4" y1="280.8" x2="460.6" y2="280.8" stroke="#000" stroke-width="1.6" />
<rect x="448.90" y="290.80" width="15.20" height="97.70" fill="#fff" stroke="#000" stroke-width="1.8"/>
<line x1="482.7" y1="368.9" x2="482.7" y2="372.1" stroke="#000" stroke-width="1.6" />
<line x1="478.59999999999997" y1="368.9" x2="486.8" y2="368.9" stroke="#000" stroke-width="1.6" />
<rect x="475.10" y="372.40" width="15.20" height="16.10" fill="#000" stroke="#000" stroke-width="1.8"/>
<line x1="505.8" y1="330.5" x2="505.8" y2="340.0" stroke="#000" stroke-width="1.6" />
<line x1="501.7" y1="330.5" x2="509.90000000000003" y2="330.5" stroke="#000" stroke-width="1.6" />
<rect x="498.20" y="340.30" width="15.20" height="48.20" fill="#000" stroke="#000" stroke-width="1.8"/>
<line x1="322.3" y1="257.5" x2="322.3" y2="389.4" stroke="#000" stroke-width="1.9" />
<line x1="318.3" y1="258.0" x2="322.3" y2="258.0" stroke="#000" stroke-width="1.6" />
<text x="318.3" y="260.3" font-size="7.8" text-anchor="end" font-weight="bold" fill="#000" stroke="#000" stroke-width="0.4" letter-spacing="-0.15">10</text>
<line x1="318.3" y1="284.2" x2="322.3" y2="284.2" stroke="#000" stroke-width="1.6" />
<text x="318.3" y="286.5" font-size="7.8" text-anchor="end" font-weight="bold" fill="#000" stroke="#000" stroke-width="0.4" letter-spacing="-0.15">8</text>
<line x1="318.3" y1="310.4" x2="322.3" y2="310.4" stroke="#000" stroke-width="1.6" />
<text x="318.3" y="312.7" font-size="7.8" text-anchor="end" font-weight="bold" fill="#000" stroke="#000" stroke-width="0.4" letter-spacing="-0.15">6</text>
<line x1="318.3" y1="336.3" x2="322.3" y2="336.3" stroke="#000" stroke-width="1.6" />
<text x="318.3" y="338.6" font-size="7.8" text-anchor="end" font-weight="bold" fill="#000" stroke="#000" stroke-width="0.4" letter-spacing="-0.15">4</text>
<line x1="318.3" y1="362.5" x2="322.3" y2="362.5" stroke="#000" stroke-width="1.6" />
<text x="318.3" y="364.8" font-size="7.8" text-anchor="end" font-weight="bold" fill="#000" stroke="#000" stroke-width="0.4" letter-spacing="-0.15">2</text>
<line x1="318.3" y1="388.5" x2="322.3" y2="388.5" stroke="#000" stroke-width="1.6" />
<text x="318.3" y="390.8" font-size="7.8" text-anchor="end" font-weight="bold" fill="#000" stroke="#000" stroke-width="0.4" letter-spacing="-0.15">0</text>
<line x1="321.40000000000003" y1="388.5" x2="514.8" y2="388.5" stroke="#000" stroke-width="1.9" />
<line x1="334.7" y1="388.5" x2="334.7" y2="392.3" stroke="#000" stroke-width="1.4" />
<line x1="357.9" y1="388.5" x2="357.9" y2="392.3" stroke="#000" stroke-width="1.4" />
<line x1="384.4" y1="388.5" x2="384.4" y2="392.3" stroke="#000" stroke-width="1.4" />
<line x1="407.2" y1="388.5" x2="407.2" y2="392.3" stroke="#000" stroke-width="1.4" />
<line x1="433.5" y1="388.5" x2="433.5" y2="392.3" stroke="#000" stroke-width="1.4" />
<line x1="456.5" y1="388.5" x2="456.5" y2="392.3" stroke="#000" stroke-width="1.4" />
<line x1="482.7" y1="388.5" x2="482.7" y2="392.3" stroke="#000" stroke-width="1.4" />
<line x1="505.8" y1="388.5" x2="505.8" y2="392.3" stroke="#000" stroke-width="1.4" />
<line x1="334.8" y1="264.2" x2="407.0" y2="264.2" stroke="#000" stroke-width="1.6" />
<line x1="334.8" y1="260.4" x2="334.8" y2="268.0" stroke="#000" stroke-width="1.6" />
<line x1="407.0" y1="260.4" x2="407.0" y2="268.0" stroke="#000" stroke-width="1.6" />
<line x1="356.1" y1="260.5" x2="356.1" y2="267.9" stroke="#000" stroke-width="1.4" />
<line x1="357.9" y1="260.5" x2="357.9" y2="267.9" stroke="#000" stroke-width="1.4" />
<text x="346.0" y="264.2" font-size="8.5" text-anchor="middle" font-weight="bold" fill="#000" stroke="#000" stroke-width="0.4" letter-spacing="-0.2">***</text>
<text x="382.0" y="264.2" font-size="8.5" text-anchor="middle" font-weight="bold" fill="#000" stroke="#000" stroke-width="0.4" letter-spacing="-0.2">**</text>
<line x1="384.7" y1="349.6" x2="406.5" y2="349.6" stroke="#000" stroke-width="1.6" />
<line x1="384.7" y1="345.8" x2="384.7" y2="353.40000000000003" stroke="#000" stroke-width="1.6" />
<line x1="406.5" y1="345.8" x2="406.5" y2="353.40000000000003" stroke="#000" stroke-width="1.6" />
<text x="394.7" y="349.0" font-size="8.5" text-anchor="middle" font-weight="bold" fill="#000" stroke="#000" stroke-width="0.4" letter-spacing="-0.2">**</text>
<line x1="434.2" y1="256.5" x2="480.4" y2="256.5" stroke="#000" stroke-width="1.6" />
<line x1="434.2" y1="252.7" x2="434.2" y2="260.3" stroke="#000" stroke-width="1.6" />
<line x1="480.4" y1="252.7" x2="480.4" y2="260.3" stroke="#000" stroke-width="1.6" />
<text x="457.5" y="256.4" font-size="8.5" text-anchor="middle" font-weight="bold" fill="#000" stroke="#000" stroke-width="0.4" letter-spacing="-0.2">***</text>
<line x1="434.3" y1="271.9" x2="505.4" y2="271.9" stroke="#000" stroke-width="1.6" />
<line x1="434.3" y1="268.09999999999997" x2="434.3" y2="275.7" stroke="#000" stroke-width="1.6" />
<line x1="505.4" y1="268.09999999999997" x2="505.4" y2="275.7" stroke="#000" stroke-width="1.6" />
<line x1="456.20000000000005" y1="268.2" x2="456.20000000000005" y2="275.59999999999997" stroke="#000" stroke-width="1.4" />
<line x1="458.0" y1="268.2" x2="458.0" y2="275.59999999999997" stroke="#000" stroke-width="1.4" />
<text x="445.4" y="271.3" font-size="8.5" text-anchor="middle" font-weight="bold" fill="#000" stroke="#000" stroke-width="0.4" letter-spacing="-0.2">**</text>
<text x="480.2" y="271.3" font-size="8.5" text-anchor="middle" font-weight="bold" fill="#000" stroke="#000" stroke-width="0.4" letter-spacing="-0.2">**</text>
<line x1="483.6" y1="317.0" x2="505.0" y2="317.0" stroke="#000" stroke-width="1.6" />
<line x1="483.6" y1="313.2" x2="483.6" y2="320.8" stroke="#000" stroke-width="1.6" />
<line x1="505.0" y1="313.2" x2="505.0" y2="320.8" stroke="#000" stroke-width="1.6" />
<text x="494.2" y="316.4" font-size="8.5" text-anchor="middle" font-weight="bold" fill="#000" stroke="#000" stroke-width="0.4" letter-spacing="-0.2">**</text>
<text transform="translate(299.3 322.4) rotate(-90)" font-size="9.4" font-weight="bold" text-anchor="middle" textLength="73" lengthAdjust="spacingAndGlyphs" stroke="#000" stroke-width="0.4">% Migrated Cells</text>
<text x="321.5" y="401.0" font-size="7.8" text-anchor="end" font-weight="bold" fill="#000" stroke="#000" stroke-width="0.4" letter-spacing="-0.1">G-CSF</text>
<text x="334.7" y="399.0" font-size="7.8" text-anchor="middle" font-weight="bold" fill="#000" stroke="#000" stroke-width="0.4" >-</text>
<text x="357.9" y="400.8" font-size="7.8" text-anchor="middle" font-weight="bold" fill="#000" stroke="#000" stroke-width="0.4" >+</text>
<text x="384.4" y="399.0" font-size="7.8" text-anchor="middle" font-weight="bold" fill="#000" stroke="#000" stroke-width="0.4" >-</text>
<text x="407.2" y="400.8" font-size="7.8" text-anchor="middle" font-weight="bold" fill="#000" stroke="#000" stroke-width="0.4" >+</text>
<text x="433.5" y="399.0" font-size="7.8" text-anchor="middle" font-weight="bold" fill="#000" stroke="#000" stroke-width="0.4" >-</text>
<text x="456.5" y="400.8" font-size="7.8" text-anchor="middle" font-weight="bold" fill="#000" stroke="#000" stroke-width="0.4" >+</text>
<text x="482.7" y="399.0" font-size="7.8" text-anchor="middle" font-weight="bold" fill="#000" stroke="#000" stroke-width="0.4" >-</text>
<text x="505.8" y="400.8" font-size="7.8" text-anchor="middle" font-weight="bold" fill="#000" stroke="#000" stroke-width="0.4" >+</text>
<text x="346.4" y="410.7" font-size="7.8" text-anchor="middle" font-weight="bold" fill="#000" stroke="#000" stroke-width="0.4" >WT</text>
<text x="396.5" y="410.7" font-size="7.8" text-anchor="middle" font-weight="bold" fill="#000" stroke="#000" stroke-width="0.4" >KO</text>
<text x="443.9" y="410.8" font-size="7.8" text-anchor="middle" font-weight="bold" fill="#000" stroke="#000" stroke-width="0.4" >WT</text>
<text x="493.2" y="410.8" font-size="7.8" text-anchor="middle" font-weight="bold" fill="#000" stroke="#000" stroke-width="0.4" >KO</text>
<line x1="327.6" y1="416.0" x2="416.5" y2="416.0" stroke="#000" stroke-width="1.5" />
<line x1="426.3" y1="415.4" x2="515.3" y2="415.4" stroke="#000" stroke-width="1.5" />
<text x="362.2" y="425.0" font-size="7.3" font-weight="bold" stroke="#000" stroke-width="0.4">Gr-1<tspan font-size="5.8" dx="1.0" dy="-3.0" letter-spacing="0.4">lo</tspan></text>
<text x="459.6" y="425.2" font-size="7.3" font-weight="bold" stroke="#000" stroke-width="0.4">Gr-1<tspan font-size="5.8" dx="1.0" dy="-3.0" letter-spacing="0.4">hi</tspan></text>
</svg>
</body></html>
